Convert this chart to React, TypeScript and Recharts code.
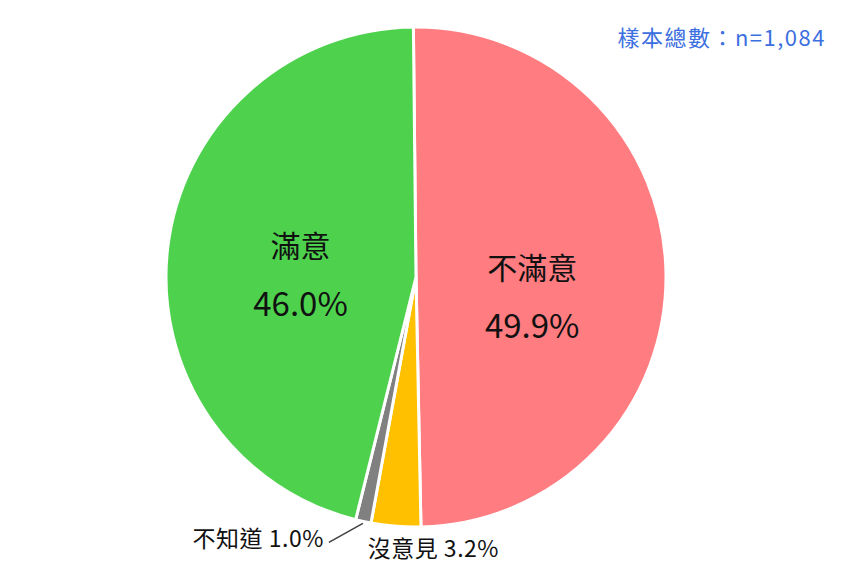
import { PieChart, Pie, Cell } from "recharts";

const categories = ["不滿意", "沒意見", "不知道", "滿意"];
const values = [49.9, 3.2, 1.0, 46.0];
const colors = ["#FF7C80", "#FFC000", "#808080", "#4ED24E"];
const sampleNote = "樣本總數：n=1,084";

const data = categories.map((name, i) => ({ name, value: values[i] }));

const FONT = "'Noto Sans CJK TC', 'Noto Sans', sans-serif";
const RAD = Math.PI / 180;

const renderLabel = (props: any) => {
  const { cx, cy, midAngle, outerRadius, index, name, value } = props;
  const cos = Math.cos(-midAngle * RAD);
  const sin = Math.sin(-midAngle * RAD);
  const pct = `${value.toFixed(1)}%`;

  if (index === 0 || index === 3) {
    const r = outerRadius * 0.465;
    const x = cx + r * cos;
    const y = cy + r * sin + (index === 0 ? 20 : 10);
    return (
      <g>
        <text x={x} y={y - 29} textAnchor="middle" dominantBaseline="central" fill="#111" fontSize={30} fontFamily={FONT}>
          {name}
        </text>
        <text x={x} y={y + 29} textAnchor="middle" dominantBaseline="central" fill="#111" fontSize={33} fontFamily={FONT}>
          {pct}
        </text>
      </g>
    );
  }

  const ox = cx + (outerRadius + 2) * cos;
  const oy = cy + (outerRadius + 2) * sin;
  if (index === 1) {
    return (
      <text x={ox - 28} y={oy + 19} textAnchor="start" dominantBaseline="central" fill="#111" fontSize={23} letterSpacing={0.5} fontFamily={FONT}>
        {`${name} ${pct}`}
      </text>
    );
  }
  const ex = ox - 34;
  const ey = oy + 19;
  return (
    <g>
      <path d={`M${ox},${oy}L${ex},${ey}`} stroke="#404040" strokeWidth={1.5} fill="none" />
      <text x={ex - 5} y={ey - 5} textAnchor="end" dominantBaseline="central" fill="#111" fontSize={23} letterSpacing={0.5} fontFamily={FONT}>
        {`${name} ${pct}`}
      </text>
    </g>
  );
};

export default function App() {
  return (
    <div style={{ position: "absolute", left: 0, top: 0, width: 856, height: 577, background: "#fff" }}>
      <PieChart width={856} height={577} margin={{ top: 0, right: 0, bottom: 0, left: 0 }}>
        <Pie
          data={data}
          dataKey="value"
          nameKey="name"
          cx={416}
          cy={277}
          outerRadius={250}
          startAngle={90.6}
          endAngle={-269.4}
          stroke="#ffffff"
          strokeWidth={3}
          label={renderLabel}
          labelLine={false}
          isAnimationActive={false}
        >
          {data.map((d, i) => (
            <Cell key={d.name} fill={colors[i]} />
          ))}
        </Pie>
      </PieChart>
      <div
        style={{
          position: "absolute",
          right: 30,
          top: 21,
          fontFamily: FONT,
          fontSize: 22,
          letterSpacing: "1.5px",
          color: "#3C6FE0",
          lineHeight: "30px",
        }}
      >
        {sampleNote}
      </div>
    </div>
  );
}
